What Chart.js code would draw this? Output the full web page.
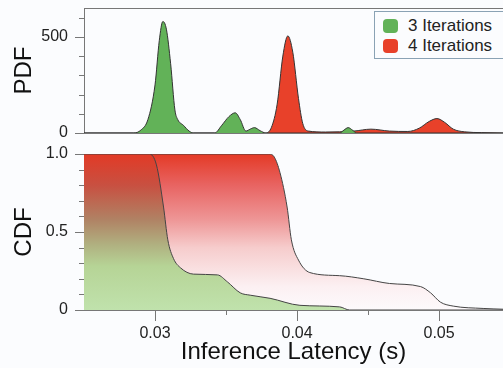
<!DOCTYPE html>
<html>
<head>
<meta charset="utf-8">
<script src="https://cdn.jsdelivr.net/npm/chart.js@4.4.0/dist/chart.umd.min.js"></script>
<style>
html, body { margin: 0; padding: 0; background: #fbfcfe; overflow: hidden; }
#wrap { position: relative; width: 503px; height: 368px; font-family: "Liberation Sans", Arial, sans-serif; }
#pdf { position: absolute; left: 0; top: 0; }
#cdf { position: absolute; left: 0; top: 140px; }
#legend { position: absolute; left: 374px; top: 11px; width: 140px; height: 46px; border: 1px solid #8aa2b4; background: #fbfcfe; }
#legend .item { position: absolute; left: 8px; height: 20px; line-height: 20px; font-size: 17px; color: #222; white-space: nowrap; }
#legend .sw { display: inline-block; width: 15px; height: 14px; border-radius: 4px; vertical-align: -2px; margin-right: 10px; }
</style>
</head>
<body>
<div id="wrap">
  <canvas id="pdf" width="503" height="140"></canvas>
  <canvas id="cdf" width="503" height="228"></canvas>
  <div id="legend">
    <div class="item" style="top:4px"><span class="sw" style="background:#62b258"></span>3 Iterations</div>
    <div class="item" style="top:24px"><span class="sw" style="background:#e8412a"></span>4 Iterations</div>
  </div>
</div>
<script>
'use strict';

// axis range (s)
let xMin = 0.025;
let xMax = 0.0545;

// PDF, 3 iterations
let pdfX3 = [0.025, 0.0285, 0.0290, 0.0295, 0.0300, 0.0303, 0.03055, 0.0308, 0.0311, 0.0314, 0.0316, 0.0320, 0.0324, 0.0327,
  0.0342, 0.0347, 0.0352, 0.03565, 0.0360, 0.0364, 0.0367, 0.0370, 0.0374, 0.0378,
  0.0430, 0.0433, 0.0436, 0.0439, 0.0442, 0.0545];
let pdf3 = [0, 0, 15, 70, 250, 480, 580, 540, 360, 120, 70, 40, 10, 0,
  0, 40, 85, 105, 70, 10, 20, 28, 12, 0,
  0, 15, 28, 15, 0, 0];

// PDF, 4 iterations
let pdfX4 = [0.025, 0.0378, 0.0382, 0.0386, 0.0390, 0.03935, 0.0397, 0.0401, 0.0404, 0.0408, 0.0420, 0.0440, 0.0452,
  0.0465, 0.0478, 0.0486, 0.0493, 0.04985, 0.0504, 0.0510, 0.0518, 0.0530, 0.0545];
let pdf4 = [0, 0, 30, 150, 400, 505, 420, 180, 50, 10, 5, 10, 20,
  10, 8, 25, 60, 75, 55, 20, 6, 2, 0];

// CDF curves (fraction of runs slower than x)
let cdfX3 = [0.025, 0.0296, 0.0301, 0.0306, 0.0309, 0.0313, 0.0318, 0.0327, 0.0344, 0.0351, 0.0360, 0.0367, 0.0381,
  0.0402, 0.0430, 0.0437, 0.0545];
let cdf3 = [1, 1, 0.93, 0.66, 0.45, 0.33, 0.27, 0.23, 0.225, 0.18, 0.11, 0.095, 0.075,
  0.03, 0.02, 0, 0];

let cdfX4 = [0.025, 0.0380, 0.0384, 0.0388, 0.0393, 0.0396, 0.0401, 0.0409, 0.0430, 0.0447, 0.0465, 0.0487,
  0.0494, 0.0501, 0.0510, 0.0531, 0.0545];
let cdf4 = [1, 1, 0.98, 0.88, 0.66, 0.45, 0.32, 0.24, 0.22, 0.20, 0.17, 0.15,
  0.11, 0.05, 0.025, 0.01, 0.005];

// tick positions and labelled ticks
let pdfTickPos = [0, 100, 200, 300, 400, 500, 600];
let pdfTicks = [0, 500];
let cdfTickPos = [0, 0.1, 0.2, 0.3, 0.4, 0.5, 0.6, 0.7, 0.8, 0.9, 1.0];
let cdfTicks = [0, 0.5, 1.0];
let xTickPos = [0.03, 0.035, 0.04, 0.045, 0.05];
let xTicks = [0.03, 0.04, 0.05];

let green = '#62b258';
let red = '#e8412a';
let axisColor = '#777';
let labelFont = { family: '"Liberation Sans", Arial, sans-serif', size: 16 };
let titleFont = { family: '"Liberation Sans", Arial, sans-serif', size: 24 };

function points(xs, ys) {
  return xs.map((x, i) => ({ x: x, y: ys[i] }));
}

function isMajor(list, v) {
  return list.some(m => Math.abs(m - v) < 1e-9);
}

function setTicks(list) {
  return s => { s.ticks = list.map(v => ({ value: v })); };
}

function noPad(s) {
  s.paddingTop = 0;
  s.paddingBottom = 0;
  s.paddingLeft = 0;
  s.paddingRight = 0;
}

// tick marks: long at labelled ticks, short elsewhere
const tickMarks = {
  id: 'tickMarks',
  afterDraw(chart, args, opts) {
    let ctx = chart.ctx;
    ctx.save();
    ctx.strokeStyle = axisColor;
    ctx.lineWidth = 1;
    for (const id of ['x', 'y']) {
      let major = opts[id];
      if (!major) continue;
      let s = chart.scales[id];
      s.ticks.forEach(t => {
        let p = Math.round(s.getPixelForValue(t.value)) + 0.5;
        let len = isMajor(major, t.value) ? (id === 'x' ? 11 : 9) : 5;
        ctx.beginPath();
        if (id === 'y') {
          ctx.moveTo(s.right - len, p);
          ctx.lineTo(s.right, p);
        } else {
          ctx.moveTo(p, s.top);
          ctx.lineTo(p, s.top + len);
        }
        ctx.stroke();
      });
    }
    ctx.restore();
  }
};

const topLine = {
  id: 'topLine',
  afterDraw(chart) {
    let a = chart.chartArea;
    let ctx = chart.ctx;
    ctx.save();
    ctx.strokeStyle = axisColor;
    ctx.lineWidth = 1;
    ctx.beginPath();
    ctx.moveTo(a.left, a.top + 0.5);
    ctx.lineTo(a.right, a.top + 0.5);
    ctx.stroke();
    ctx.restore();
  }
};

function yGradient(context, stops) {
  let chart = context.chart;
  let a = chart.chartArea;
  if (!a) return null;
  let y = chart.scales.y;
  let g = chart.ctx.createLinearGradient(0, y.getPixelForValue(1), 0, y.getPixelForValue(0));
  stops.forEach(s => g.addColorStop(s[0], s[1]));
  return g;
}

new Chart(document.getElementById('pdf'), {
  type: 'line',
  data: {
    datasets: [
      {
        label: '3 Iterations',
        data: points(pdfX3, pdf3),
        fill: 'origin',
        backgroundColor: green,
        borderColor: '#333',
        borderWidth: 1,
        pointRadius: 0,
        cubicInterpolationMode: 'monotone',
      },
      {
        label: '4 Iterations',
        data: points(pdfX4, pdf4),
        fill: 'origin',
        backgroundColor: red,
        borderColor: '#333',
        borderWidth: 1,
        pointRadius: 0,
        cubicInterpolationMode: 'monotone',
      },
    ],
  },
  options: {
    responsive: false,
    animation: false,
    devicePixelRatio: 1,
    layout: { padding: { top: 8, right: 0, left: 0, bottom: 0 } },
    plugins: { legend: { display: false }, tooltip: { enabled: false }, tickMarks: { y: pdfTicks } },
    scales: {
      x: {
        type: 'linear',
        min: xMin,
        max: xMax,
        ticks: { display: false },
        grid: { display: false },
        border: { color: axisColor },
        afterFit(s) { s.height = 7; noPad(s); },
      },
      y: {
        min: 0,
        max: 650,
        afterBuildTicks: setTicks(pdfTickPos),
        ticks: {
          padding: 7,
          autoSkip: false,
          color: '#222',
          font: labelFont,
          callback: v => (isMajor(pdfTicks, v) ? String(v) : ''),
        },
        grid: { drawOnChartArea: false, tickLength: 9, tickColor: 'transparent' },
        border: { color: axisColor },
        title: { display: true, text: 'PDF', color: '#111', font: titleFont, padding: { top: 10, bottom: 0 } },
        afterFit(s) { s.width = 84; noPad(s); },
      },
    },
  },
  plugins: [tickMarks, topLine],
});

new Chart(document.getElementById('cdf'), {
  type: 'line',
  data: {
    datasets: [
      {
        label: '3 Iterations',
        data: points(cdfX3, cdf3),
        fill: 'origin',
        backgroundColor: ctx => yGradient(ctx, [
          [0, 'rgb(226,58,38)'], [0.2, 'rgb(200,80,65)'], [0.42, 'rgb(176,130,100)'],
          [0.58, 'rgb(176,176,128)'], [0.72, 'rgb(182,212,150)'], [1, 'rgb(192,226,172)']]),
        borderColor: '#444',
        borderWidth: 1,
        pointRadius: 0,
        cubicInterpolationMode: 'monotone',
      },
      {
        label: '4 Iterations',
        data: points(cdfX4, cdf4),
        fill: 'origin',
        backgroundColor: ctx => yGradient(ctx, [
          [0, 'rgb(228,58,38)'], [0.2, 'rgb(232,100,98)'], [0.42, 'rgb(238,150,150)'],
          [0.6, 'rgb(246,204,204)'], [0.85, 'rgb(252,240,242)'], [1, 'rgb(253,250,252)']]),
        borderColor: '#444',
        borderWidth: 1,
        pointRadius: 0,
        cubicInterpolationMode: 'monotone',
      },
    ],
  },
  options: {
    responsive: false,
    animation: false,
    devicePixelRatio: 1,
    layout: { padding: { top: 14, right: 0, left: 0, bottom: 0 } },
    plugins: { legend: { display: false }, tooltip: { enabled: false }, tickMarks: { x: xTicks, y: cdfTicks } },
    scales: {
      x: {
        type: 'linear',
        min: xMin,
        max: xMax,
        afterBuildTicks: setTicks(xTickPos),
        ticks: {
          padding: 3,
          color: '#222',
          font: labelFont,
          maxRotation: 0,
          autoSkip: false,
          callback: v => (isMajor(xTicks, v) ? v.toFixed(2) : ''),
        },
        grid: { drawOnChartArea: false, tickLength: 11, tickColor: 'transparent' },
        border: { color: axisColor },
        title: { display: true, text: 'Inference Latency (s)', color: '#111', font: titleFont, padding: { top: 0, bottom: 1 } },
        afterFit(s) { s.height = 58; noPad(s); },
      },
      y: {
        min: 0,
        max: 1,
        afterBuildTicks: setTicks(cdfTickPos),
        ticks: {
          padding: 7,
          autoSkip: false,
          color: '#222',
          font: labelFont,
          callback: v => (isMajor(cdfTicks, v) ? (v === 0 ? '0' : v.toFixed(1)) : ''),
        },
        grid: { drawOnChartArea: false, tickLength: 9, tickColor: 'transparent' },
        border: { color: axisColor },
        title: { display: true, text: 'CDF', color: '#111', font: titleFont, padding: { top: 10, bottom: 0 } },
        afterFit(s) { s.width = 84; noPad(s); },
      },
    },
  },
  plugins: [tickMarks],
});
</script>
</body>
</html>
